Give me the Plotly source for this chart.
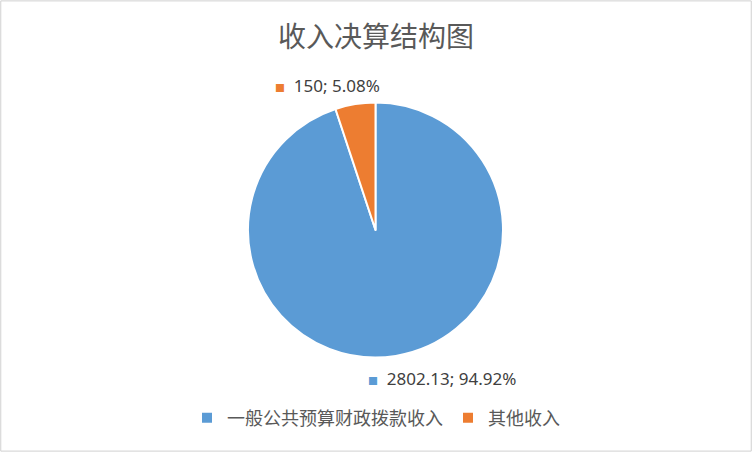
import plotly.graph_objects as go

categories = ["一般公共预算财政拨款收入", "其他收入"]
values = [2802.13, 150]
colors = ["#5B9BD5", "#ED7D31"]
title_text = "收入决算结构图"

W, H = 752, 452
total = sum(values)

fig = go.Figure()
fig.add_trace(go.Pie(
    labels=categories,
    values=values,
    sort=False,
    direction="clockwise",
    rotation=0,
    marker=dict(colors=colors, line=dict(color="white", width=2)),
    textinfo="none",
    hoverinfo="label+value+percent",
    domain=dict(x=[248 / W, 503 / W], y=[1 - 358 / H, 1 - 102 / H]),
))

# data labels (outside, with a coloured square like the original)
label_pos = [(366, 378), (273, 85)]
for cat, v, c, (px_, py_) in zip(categories, values, colors, label_pos):
    fig.add_annotation(
        x=px_ / W, y=1 - py_ / H, xref="paper", yref="paper",
        xanchor="left", yanchor="middle", showarrow=False,
        text=f"<span style='color:{c};font-size:10px'>■</span>  {v:g}; {v / total * 100:.2f}%",
        font=dict(size=17, color="#404040", family="Noto Sans, Noto Sans CJK SC"),
    )

fig.update_layout(
    width=W, height=H,
    margin=dict(l=0, r=0, t=0, b=0),
    paper_bgcolor="white",
    font=dict(family="Noto Sans CJK SC, Noto Sans", color="#595959"),
    title=dict(text=title_text, x=0.5, xanchor="center", y=1 - 37 / H, yanchor="middle",
               font=dict(size=28, color="#595959")),
    legend=dict(orientation="h", x=0.5, xanchor="center", y=1 - 418 / H, yanchor="middle",
                font=dict(size=18, color="#595959"), itemwidth=30, tracegroupgap=0),
    shapes=[dict(type="rect", xref="paper", yref="paper", x0=0.001, x1=0.999, y0=0.002, y1=0.998,
                 line=dict(color="#D0D0D0", width=1))],
)

# page body has a default 8px margin; drop it so the 752x452 figure fills the window
fig.write_html("out.html", config={"displayModeBar": False},
               post_script="document.body.style.margin='0';")
